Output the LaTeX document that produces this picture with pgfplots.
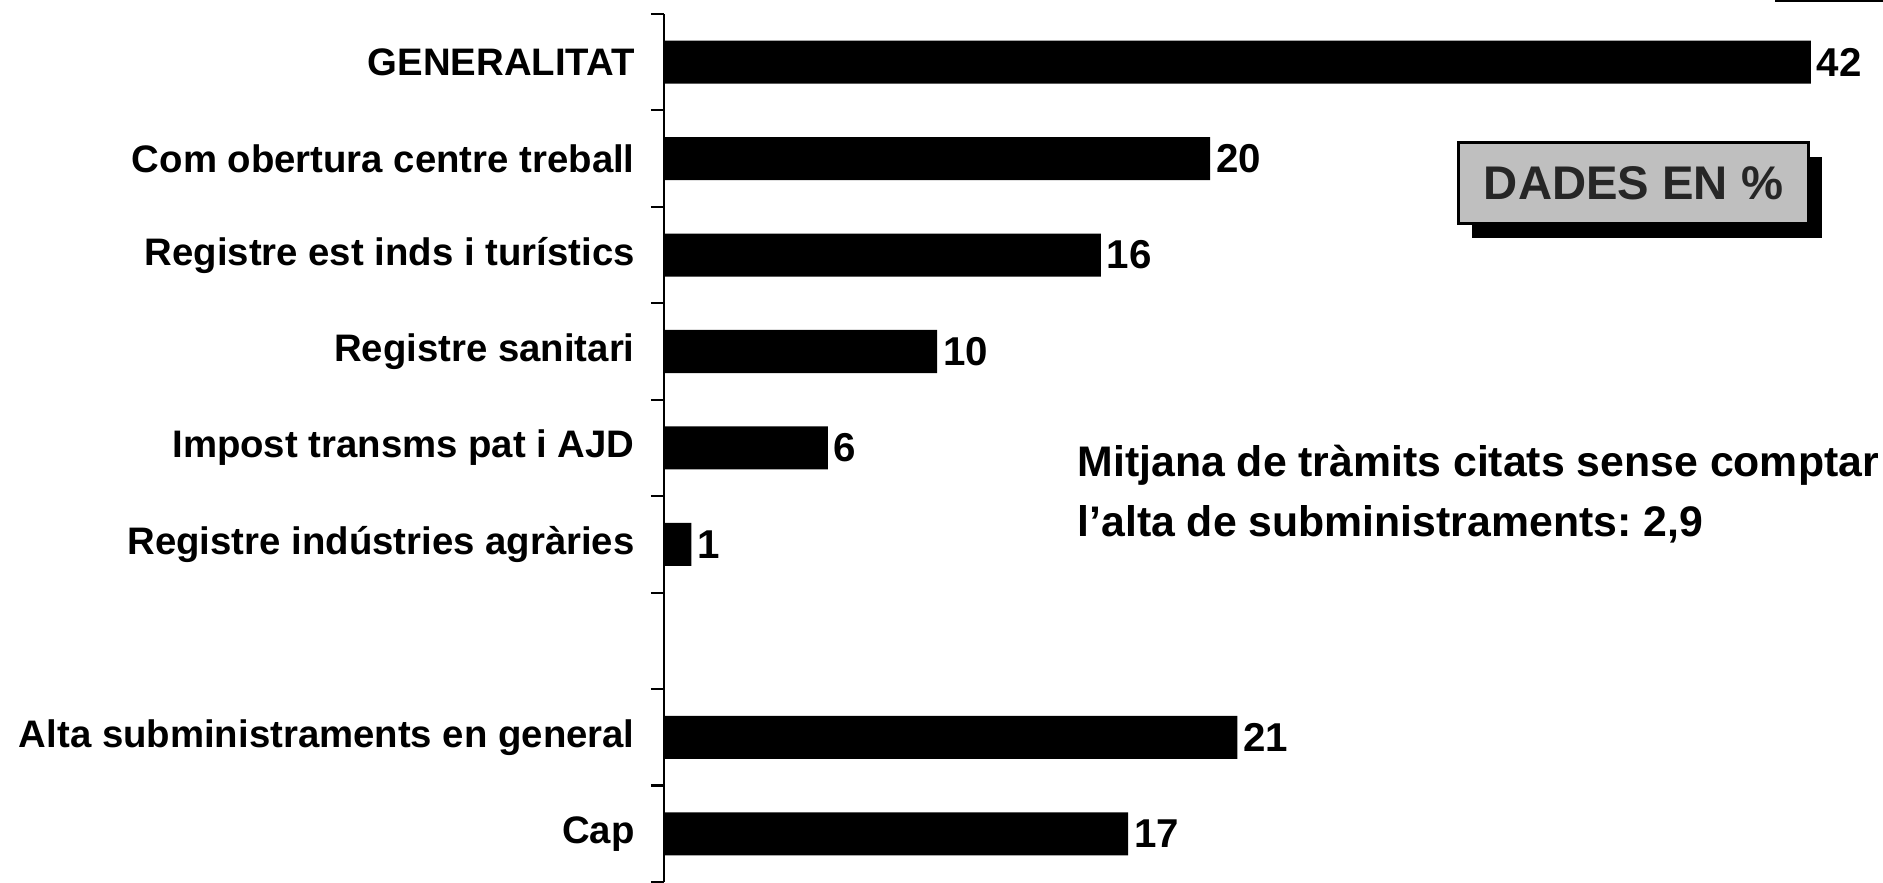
\documentclass[border=0pt]{standalone}
\usepackage{pgfplots}
\pgfplotsset{compat=1.18}
\usepackage{fontspec}
\setmainfont{Liberation Sans}
\begin{document}
\begin{tikzpicture}
\begin{axis}[
  at={(0,0)}, anchor=south west,
  scale only axis,
  width=432.5pt, height=312.5pt,
  xmin=0, xmax=44, ymin=-0.5, ymax=8.5,
  xbar, bar width=15.5pt,
  axis x line=none,
  axis y line*=left,
  y axis line style={line width=0.8pt, -},
  ytick={0,...,8},
  yticklabels={Cap, Alta subministraments en general, {}, Registre indústries agràries, Impost transms pat i AJD, Registre sanitari, Registre est inds i turístics, Com obertura centre treball, GENERALITAT},
  minor ytick={-0.5,0.5,...,8.5},
  major tick length=0pt,
  minor tick length=4.7pt,
  tick align=outside,
  tick style={line width=0.8pt, black},
  yticklabel style={font=\bfseries\fontsize{13.8}{16}\selectfont, xshift=-7pt},
  /pgf/number format/assume math mode=true,
  nodes near coords,
  nodes near coords style={font=\bfseries\fontsize{14.5}{16}\selectfont, anchor=west, inner sep=2pt, black},
  clip=false,
]
\addplot[fill=black, draw=none] coordinates {(42,8) (20,7) (16,6) (10,5) (6,4) (1,3) (21,1) (17,0)};
\end{axis}
\fill[black] (290.9pt,231.8pt) rectangle (416.9pt,261.0pt);
\node[draw=black, line width=1pt, fill=gray!50, minimum width=126pt, minimum height=29.2pt, anchor=north west, inner sep=0pt] at (285.5pt,266.8pt) {\bfseries\fontsize{17}{20}\selectfont\color{black!85}DADES EN \%};
\node[anchor=base west, inner sep=0pt, font=\bfseries\fontsize{15.4}{18}\selectfont] at (148.7pt,145.8pt) {Mitjana de tràmits citats sense comptar};
\node[anchor=base west, inner sep=0pt, font=\bfseries\fontsize{15.4}{18}\selectfont] at (148.7pt,124.2pt) {l’alta de subministraments:\ 2,9};
\draw[line width=0.7pt] (400pt,317.2pt) -- (438.8pt,317.2pt);
\pgfresetboundingbox
\path[use as bounding box] (-239pt,0pt) rectangle (438.8pt,317.5pt);
\end{tikzpicture}
\end{document}
